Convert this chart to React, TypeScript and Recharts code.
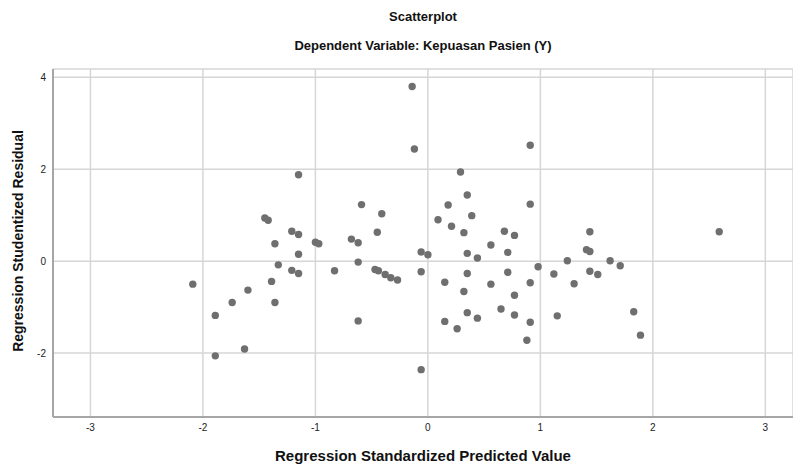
import React from 'react';
import { ScatterChart, Scatter, XAxis, YAxis, CartesianGrid } from 'recharts';

// Regression standardized predicted value (x) and studentized residual (y)
const predicted = [
  -2.09, -1.89, -1.89, -1.74, -1.63, -1.6, -1.45, -1.42, -1.39, -1.36, -1.36, -1.33,
  -1.21, -1.21, -1.15, -1.15, -1.15, -1.15, -1.0, -0.97, -0.83, -0.68, -0.62, -0.62,
  -0.62, -0.59, -0.47, -0.45, -0.44, -0.41, -0.38, -0.33, -0.27, -0.14, -0.12, -0.06,
  -0.06, -0.06, 0.0, 0.09, 0.15, 0.15, 0.18, 0.21, 0.26, 0.29, 0.32, 0.32,
  0.35, 0.35, 0.35, 0.35, 0.39, 0.44, 0.44, 0.56, 0.56, 0.65, 0.68, 0.71,
  0.71, 0.77, 0.77, 0.77, 0.88, 0.91, 0.91, 0.91, 0.91, 0.98, 1.12, 1.15,
  1.24, 1.3, 1.41, 1.44, 1.44, 1.44, 1.51, 1.62, 1.71, 1.83, 1.89, 2.59,
];

const residual = [
  -0.5, -1.18, -2.06, -0.9, -1.91, -0.63, 0.94, 0.89, -0.44, 0.38, -0.9, -0.08,
  0.65, -0.2, 1.88, 0.58, 0.15, -0.27, 0.41, 0.38, -0.21, 0.48, 0.4, -0.02,
  -1.3, 1.23, -0.18, 0.63, -0.21, 1.03, -0.29, -0.36, -0.41, 3.8, 2.44, 0.2,
  -0.23, -2.36, 0.14, 0.9, -0.46, -1.31, 1.22, 0.76, -1.47, 1.94, 0.62, -0.66,
  1.44, 0.17, -0.27, -1.12, 0.99, 0.07, -1.24, 0.35, -0.5, -1.04, 0.65, 0.19,
  -0.24, 0.56, -0.74, -1.17, -1.72, 2.52, 1.24, -0.47, -1.33, -0.12, -0.28, -1.19,
  0.01, -0.49, 0.25, 0.64, 0.21, -0.22, -0.29, 0.01, -0.1, -1.1, -1.61, 0.64,
];

const xTicks = [-3, -2, -1, 0, 1, 2, 3];
const yTicks = [-2, 0, 2, 4];

const points = predicted.map((x, i) => ({ x, y: residual[i] }));

const font = '"Liberation Sans", Arial, sans-serif';

const Dot = (props: any) => <circle cx={props.cx} cy={props.cy} r={3.7} fill="#6f6f6f" />;

export default function App() {
  return (
    <div style={{ position: 'relative', width: 793, height: 464, fontFamily: font, background: '#fff', overflow: 'hidden' }}>
      <style>{`body{margin:0}`}</style>
      <ScatterChart width={793} height={464} margin={{ top: 69, right: 0, bottom: 17, left: 0 }}>
        <CartesianGrid stroke="#d6d6d6" strokeWidth={1.5} />
        <XAxis
          type="number"
          dataKey="x"
          domain={[-3.333, 3.246]}
          ticks={xTicks}
          allowDataOverflow
          height={30}
          tickSize={0}
          tickMargin={7}
          axisLine={{ stroke: '#a6a6a6', strokeWidth: 2 }}
          tick={{ fill: '#222', fontSize: 10, fontFamily: font }}
        />
        <YAxis
          type="number"
          dataKey="y"
          domain={[-3.39, 4.18]}
          ticks={yTicks}
          allowDataOverflow
          width={53}
          tickSize={0}
          tickMargin={7}
          axisLine={{ stroke: '#a6a6a6', strokeWidth: 2 }}
          tick={{ fill: '#222', fontSize: 10, fontFamily: font }}
        />
        <Scatter data={points} shape={<Dot />} isAnimationActive={false} />
      </ScatterChart>

      <div style={{ position: 'absolute', top: 9, left: 53, width: 740, textAlign: 'center', fontSize: 13, fontWeight: 'bold', color: '#111' }}>
        Scatterplot
      </div>
      <div style={{ position: 'absolute', top: 38, left: 53, width: 740, textAlign: 'center', fontSize: 13, fontWeight: 'bold', color: '#111' }}>
        Dependent Variable: Kepuasan Pasien (Y)
      </div>
      <div style={{ position: 'absolute', top: 447, left: 53, width: 740, textAlign: 'center', fontSize: 15, fontWeight: 'bold', color: '#111', whiteSpace: 'nowrap' }}>
        Regression Standardized Predicted Value
      </div>
      <div
        style={{
          position: 'absolute',
          left: 18,
          top: 241,
          transform: 'translate(-50%, -50%) rotate(-90deg)',
          whiteSpace: 'nowrap',
          fontSize: 14,
          fontWeight: 'bold',
          color: '#111',
        }}
      >
        Regression Studentized Residual
      </div>
    </div>
  );
}
